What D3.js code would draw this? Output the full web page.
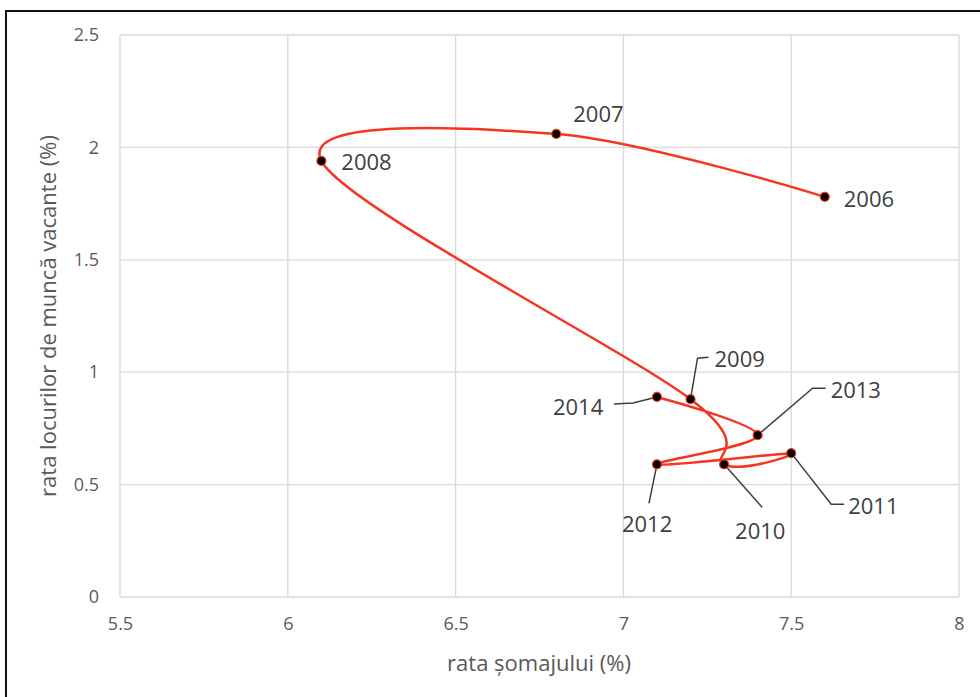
<!DOCTYPE html>
<html>
<head>
<meta charset="utf-8">
<script src="https://cdn.jsdelivr.net/npm/d3@7"></script>
<style>
  body { margin: 0; background: #fff; }
  text { font-family: "Open Sans", sans-serif; fill: #595959; }
</style>
</head>
<body>
<div class="chart"></div>
<script>
// data
const years = [2006, 2007, 2008, 2009, 2010, 2011, 2012, 2013, 2014];
const unemployment = [7.6, 6.8, 6.1, 7.2, 7.3, 7.5, 7.1, 7.4, 7.1];
const vacancies = [1.78, 2.06, 1.94, 0.88, 0.59, 0.64, 0.59, 0.72, 0.89];
const xTicks = [5.5, 6, 6.5, 7, 7.5, 8];
const yTicks = [0, 0.5, 1, 1.5, 2, 2.5];

// label offsets (px) from each point; leader = polyline points relative to point
const labelPos = {
  2006: { dx: 19, dy: 1, leader: null },
  2007: { dx: 17, dy: -21, leader: null },
  2008: { dx: 20, dy: 0, leader: null },
  2009: { dx: 24, dy: -41, leader: [[0, 0], [7, -41], [18, -42]] },
  2010: { dx: 11, dy: 66, leader: [[0, 0], [38, 43]] },
  2011: { dx: 57, dy: 52, leader: [[0, 0], [40, 51], [53, 51]] },
  2012: { dx: -35, dy: 59, leader: [[0, 0], [-8, 39]] },
  2013: { dx: 73, dy: -46, leader: [[0, 0], [55, -47], [68, -47]] },
  2014: { dx: -104, dy: 9, leader: [[0, 0], [-24, 6], [-43, 7]] }
};

const w = 980, h = 697;
const margin = { left: 120, right: 21, top: 35, bottom: 100 };

const svg = d3.select('.chart')
  .append('svg')
  .attr('width', w)
  .attr('height', h);

// outer frame
svg.append('rect')
  .attr('x', 6).attr('y', 11)
  .attr('width', w).attr('height', h)
  .attr('fill', 'none')
  .attr('stroke', '#111')
  .attr('stroke-width', 2);

const x = d3.scaleLinear().domain([5.5, 8]).range([margin.left, w - margin.right]);
const y = d3.scaleLinear().domain([0, 2.5]).range([h - margin.bottom, margin.top]);

// gridlines
svg.append('g')
  .selectAll('line.v')
  .data(xTicks)
  .enter()
  .append('line')
  .attr('x1', d => x(d)).attr('x2', d => x(d))
  .attr('y1', y(0)).attr('y2', y(2.5))
  .attr('stroke', '#d9d9d9').attr('stroke-width', 1.3);

svg.append('g')
  .selectAll('line.h')
  .data(yTicks)
  .enter()
  .append('line')
  .attr('x1', x(5.5)).attr('x2', x(8))
  .attr('y1', d => y(d)).attr('y2', d => y(d))
  .attr('stroke', '#d9d9d9').attr('stroke-width', 1.3);

// axes (labels only, no domain/ticks)
const xAxis = d3.axisBottom(x).tickValues(xTicks).tickSize(0).tickPadding(20).tickFormat(d3.format(''));
const yAxis = d3.axisLeft(y).tickValues(yTicks).tickSize(0).tickPadding(21).tickFormat(d3.format(''));

svg.append('g')
  .attr('transform', 'translate(0,' + y(0) + ')')
  .call(xAxis)
  .call(g => g.select('.domain').remove())
  .selectAll('text')
  .style('font-family', '"Open Sans", sans-serif')
  .style('font-size', '18px')
  .style('fill', '#595959');

svg.append('g')
  .attr('transform', 'translate(' + x(5.5) + ',0)')
  .call(yAxis)
  .call(g => g.select('.domain').remove())
  .selectAll('text')
  .style('font-family', '"Open Sans", sans-serif')
  .style('font-size', '18px')
  .style('fill', '#595959');

// axis titles
svg.append('text')
  .attr('x', 539).attr('y', 671)
  .attr('text-anchor', 'middle')
  .style('font-size', '22px')
  .text('rata șomajului (%)');

svg.append('text')
  .attr('transform', 'translate(56,316) rotate(-90)')
  .attr('text-anchor', 'middle')
  .style('font-size', '22px')
  .text('rata locurilor de muncă vacante (%)');

const pts = years.map((yr, i) => ({ year: yr, ux: unemployment[i], vy: vacancies[i] }));

// smoothed connecting line
const line = d3.line()
  .x(d => x(d.ux))
  .y(d => y(d.vy))
  .curve(d3.curveCardinal.tension(0));

svg.append('path')
  .datum(pts)
  .attr('d', line)
  .attr('fill', 'none')
  .attr('stroke', '#f5351f')
  .attr('stroke-width', 2.5);

// leaders
svg.append('g')
  .selectAll('polyline')
  .data(pts.filter(d => labelPos[d.year].leader))
  .enter()
  .append('polyline')
  .attr('points', d => labelPos[d.year].leader.map(p => [x(d.ux) + p[0], y(d.vy) + p[1]].join(',')).join(' '))
  .attr('fill', 'none')
  .attr('stroke', '#404040')
  .attr('stroke-width', 1.5);

// markers
svg.append('g')
  .selectAll('circle')
  .data(pts)
  .enter()
  .append('circle')
  .attr('cx', d => x(d.ux))
  .attr('cy', d => y(d.vy))
  .attr('r', 4.5)
  .attr('fill', '#000')
  .attr('stroke', '#f5351f')
  .attr('stroke-width', 1.2);

// year labels
svg.append('g')
  .selectAll('text')
  .data(pts)
  .enter()
  .append('text')
  .attr('x', d => x(d.ux) + labelPos[d.year].dx)
  .attr('y', d => y(d.vy) + labelPos[d.year].dy)
  .attr('dominant-baseline', 'central')
  .style('font-size', '22px')
  .style('fill', '#404040')
  .text(d => d.year);
</script>
</body>
</html>
